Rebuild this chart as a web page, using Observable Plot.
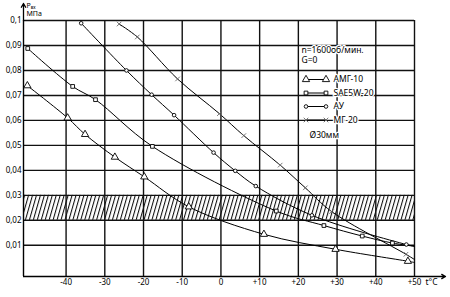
<!DOCTYPE html>
<html><head><meta charset="utf-8">
<script src="https://cdn.jsdelivr.net/npm/d3@7"></script>
<script src="https://cdn.jsdelivr.net/npm/@observablehq/plot@0.6"></script>
<style>body{margin:0;background:#fff} svg{display:block}</style>
</head><body><div id="chart"></div>
<script>
// ---- data ----
const amgT = [-50, -39.6, -35.1, -27.4, -19.8, -8.3, 11.1, 29.6, 48.3, 50];
const amgP = [0.0739, 0.061, 0.0544, 0.0453, 0.0374, 0.0254, 0.0144, 0.0084, 0.0036, 0.0031];
const saeT = [-49.9, -38.3, -32.4, -17.7, 14.3, 26.6, 36.5, 44.3, 50];
const saeP = [0.0888, 0.0736, 0.0683, 0.0496, 0.0237, 0.0179, 0.0137, 0.0109, 0.0096];
const auT = [-36.1, -24.4, -17.9, -12.1, -1.9, 3.7, 9.0, 23.5, 47.9, 50];
const auP = [0.0989, 0.08, 0.0703, 0.0621, 0.0471, 0.0398, 0.0337, 0.022, 0.0103, 0.0096];
const mgT = [-26.3, -21.6, -11.2, -0.4, 5.9, 15.3, 21.8, 28.6, 47.8, 50];
const mgP = [0.0986, 0.0934, 0.0766, 0.0627, 0.0539, 0.0421, 0.033, 0.0235, 0.0064, 0.0043];
const seriesNames = ["АМГ-10", "SAE5W-20", "АУ", "МГ-20"];
const seriesSymbols = ["triangle", "square", "circle", "times"];
const xTicks = [-40, -30, -20, -10, 0, 10, 20, 30, 40, 50];
const xTickLabels = ["-40", "-30", "-20", "-10", "0", "+10", "+20", "+30", "+40", "+50"];
const yTicks = [0.01, 0.02, 0.03, 0.04, 0.05, 0.06, 0.07, 0.08, 0.09, 0.1];
const yTickLabels = ["0,01", "0,02", "0,03", "0,04", "0,05", "0,06", "0,07", "0,08", "0,09", "0,1"];
const band = [0.02, 0.03];
const noteLines = ["n=1600об/мин.", "G=0"];
const diameterNote = "Ø30мм";
const yTitle = ["P", "вх", "МПа"];
const xTitle = "t°C";

// ---- layout ----
const W = 450, H = 297, mL = 23, mR = 36, mT = 20, mB = 21;
const xDomain = [-51, 50], yDomain = [-0.0025, 0.1];
const xs = d3.scaleLinear(xDomain, [mL, W - mR]);
const ys = d3.scaleLinear(yDomain, [H - mB, mT]);
const markStyle = {
  triangle: {r: 2.7, fill: "white", stroke: "black", strokeWidth: 0.9},
  square: {r: 2.1, fill: "white", stroke: "black", strokeWidth: 0.9},
  circle: {r: 1.8, fill: "white", stroke: "black", strokeWidth: 0.9},
  times: {r: 2.2, fill: "none", stroke: "#666", strokeWidth: 0.9}
};

const seriesT = [amgT, saeT, auT, mgT];
const seriesP = [amgP, saeP, auP, mgP];
const rows = seriesNames.flatMap((name, i) =>
  seriesT[i].map((t, j) => ({name, symbol: seriesSymbols[i], t, p: seriesP[i][j]})));
const markers = rows.filter(d => d.t < 49.95);

const legendRows = seriesNames.map((name, i) => ({name, symbol: seriesSymbols[i], y: ys.invert(79 + 13.5 * i)}));
const lx1 = xs.invert(305.5), lx2 = xs.invert(325.5);
const halo = {stroke: "white", strokeWidth: 2.5, fill: "black"};

const marks = [
  Plot.rect([band], {x1: xDomain[0], x2: xDomain[1], y1: d => d[0], y2: d => d[1], fill: "url(#hatch)"}),
  Plot.ruleX(xTicks, {stroke: "#111", strokeWidth: 1.4}),
  Plot.ruleY(yTicks, {stroke: "#111", strokeWidth: 1.4}),
  Plot.ruleX([xDomain[0]], {stroke: "black", strokeWidth: 1.4}),
  Plot.ruleY([yDomain[0]], {stroke: "black", strokeWidth: 1.4}),
  Plot.arrow([0], {x1: xDomain[0], y1: yDomain[1], x2: xDomain[0], y2: ys.invert(3), stroke: "black", strokeWidth: 1.3, headLength: 5}),
  Plot.arrow([0], {x1: xDomain[1], y1: yDomain[0], x2: xs.invert(445), y2: yDomain[0], stroke: "black", strokeWidth: 1.3, headLength: 5}),
  Plot.line(rows, {x: "t", y: "p", z: "name", curve: "catmull-rom", stroke: "black", strokeWidth: 1})
];
for (const s of seriesSymbols) {
  const st = markStyle[s];
  marks.push(Plot.dot(markers.filter(d => d.symbol === s), {x: "t", y: "p", symbol: s, ...st}));
}
// legend
marks.push(Plot.text(noteLines, {x: xs.invert(301), y: (d, i) => ys.invert(50.2 + 9.5 * i), text: d => d, textAnchor: "start", fontSize: 8.5, ...halo}));
marks.push(Plot.link(legendRows, {x1: lx1, x2: lx2, y1: "y", y2: "y", stroke: "black", strokeWidth: 1}));
for (const s of seriesSymbols) {
  const st = markStyle[s];
  const lr = legendRows.filter(d => d.symbol === s);
  marks.push(Plot.dot(lr, {x: lx1, y: "y", symbol: s, ...st}));
  marks.push(Plot.dot(lr, {x: lx2, y: "y", symbol: s, ...st}));
}
marks.push(Plot.text(legendRows, {x: xs.invert(333), y: "y", text: "name", textAnchor: "start", fontSize: 8.5, ...halo}));
marks.push(Plot.text([diameterNote], {x: xs.invert(309), y: ys.invert(134.3), text: d => d, textAnchor: "start", fontSize: 8.5, ...halo}));
// axis titles
marks.push(Plot.text([yTitle[0]], {x: xs.invert(26), y: ys.invert(5.5), text: d => d, textAnchor: "start", fontSize: 7}));
marks.push(Plot.text([yTitle[1]], {x: xs.invert(30.3), y: ys.invert(7.5), text: d => d, textAnchor: "start", fontSize: 4.5}));
marks.push(Plot.text([yTitle[2]], {x: xs.invert(26), y: ys.invert(13.7), text: d => d, textAnchor: "start", fontSize: 7}));
marks.push(Plot.text([xTitle], {x: xs.invert(425), y: ys.invert(282), text: d => d, textAnchor: "start", fontSize: 8.5}));

const svg = Plot.plot({
  width: W, height: H,
  marginLeft: mL, marginRight: mR, marginTop: mT, marginBottom: mB,
  style: {fontFamily: "Noto Sans", fontSize: "8px", background: "white", overflow: "visible"},
  x: {domain: xDomain, ticks: xTicks, tickFormat: d => xTickLabels[xTicks.indexOf(d)], tickSize: 0, tickPadding: 3, label: null},
  y: {domain: yDomain, ticks: yTicks, tickFormat: d => yTickLabels[yTicks.indexOf(d)], tickSize: 0, tickPadding: 2, label: null},
  marks
});
const defs = d3.select(svg).insert("defs", ":first-child");
const pat = defs.append("pattern").attr("id", "hatch").attr("patternUnits", "userSpaceOnUse")
  .attr("width", 3.8).attr("height", 10).attr("patternTransform", "rotate(16)");
pat.append("rect").attr("width", 3.8).attr("height", 10).attr("fill", "white");
pat.append("line").attr("x1", 1.5).attr("y1", -1).attr("x2", 1.5).attr("y2", 11).attr("stroke", "black").attr("stroke-width", 1);
document.getElementById("chart").append(svg);
</script>
</body></html>
